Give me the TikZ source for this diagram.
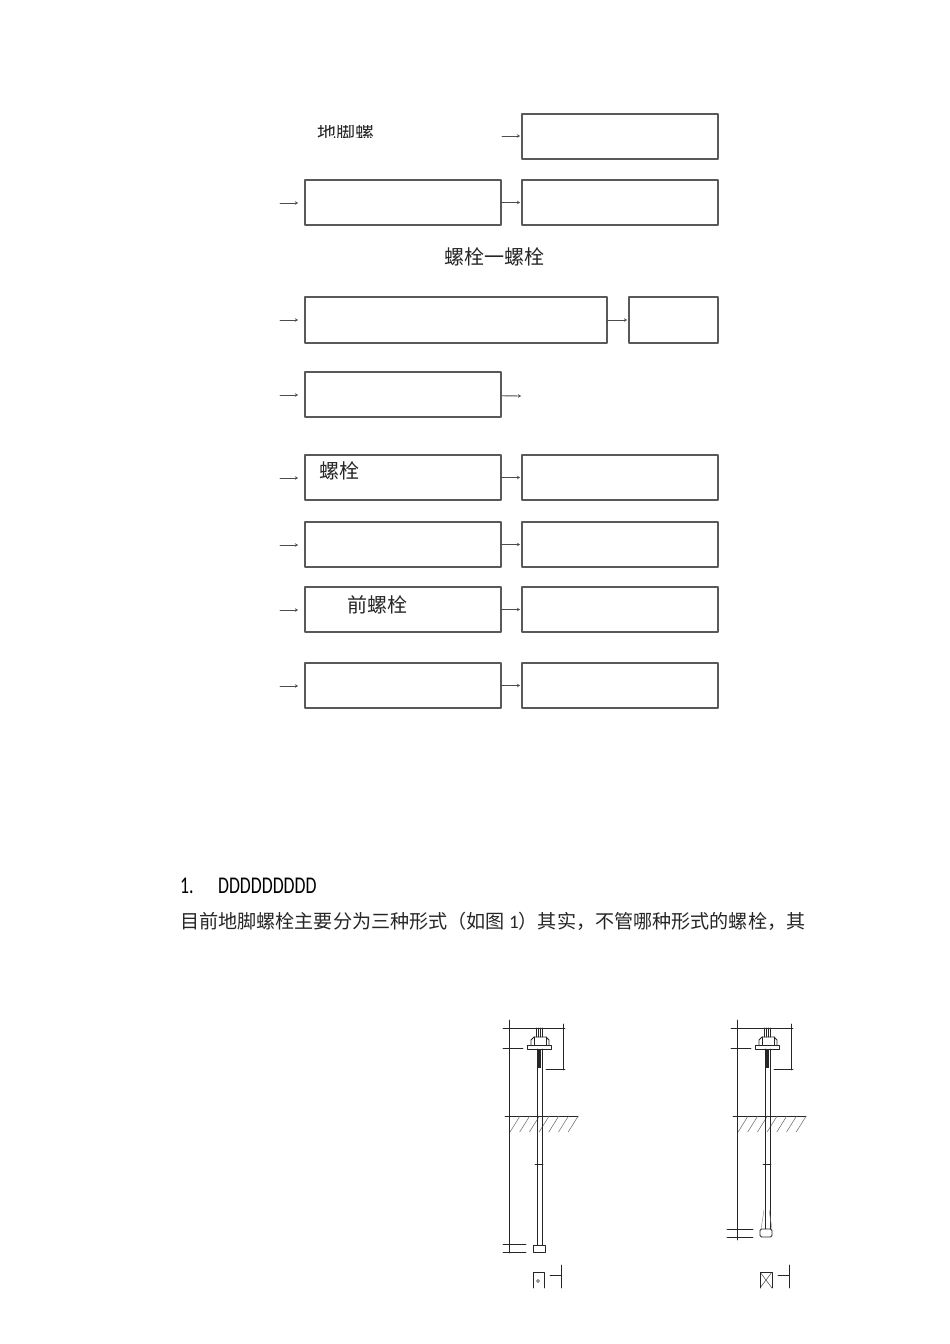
\documentclass[tikz,border=0pt]{standalone}
\usepackage{fontspec}
\setmainfont{Noto Sans CJK SC}
\newfontfamily\latinfont{Carlito}
\usetikzlibrary{arrows.meta,positioning}
\tikzset{
  flowbox/.style={draw=black!65,line width=1.1pt,fill=white,inner sep=0pt,outer sep=0pt,minimum height=45,anchor=north west},
  flowarrow/.style={draw=black!70,line width=0.9pt,-{Stealth[length=3pt,width=3.5pt]}},
  boxlabel/.style={inner sep=0pt,font=\fontsize{20}{20}\selectfont,text=black!85},
  drawing/.style={line width=0.8pt,draw=black!85}
}
\begin{document}
\begin{tikzpicture}[x=1pt,y=-1pt,line cap=round,line join=round]
  \useasboundingbox[fill=white] (0,0) rectangle (950,1344);

  % The two-box rows: left box, right box.
  \foreach \i/\y in {2/180,5/455,6/522,7/587,8/663}{
    \node[flowbox,minimum width=196] (left\i) at (305,\y) {};
    \node[flowbox,minimum width=196] (right\i) at (522,\y) {};
    \coordinate (start\i) at (280,\y+23);
    \draw[flowarrow,shorten >=7pt] (start\i) -- (start\i-|left\i.west);
    \draw[flowarrow,shorten >=2pt] (left\i) -- (right\i);
  }

  % Rows that do not follow that pattern.
  \node[flowbox,minimum width=196] (right1) at (522,114) {};
  \coordinate (start1) at (502,136);
  \draw[flowarrow,shorten >=2pt] (start1) -- (start1-|right1.west);
  \node[flowbox,minimum width=302,minimum height=46] (left3) at (305,297) {};
  \node[flowbox,minimum width=89,minimum height=46] (right3) at (629,297) {};
  \coordinate (start3) at (280,320);
  \draw[flowarrow,shorten >=7pt] (start3) -- (start3-|left3.west);
  \draw[flowarrow,shorten >=2pt] (left3) -- (right3);
  \node[flowbox,minimum width=196] (left4) at (305,372) {};
  \coordinate (start4) at (280,395);
  \coordinate (end4) at (521,396);
  \draw[flowarrow,shorten >=7pt] (start4) -- (start4-|left4.west);
  \draw[flowarrow] (left4) -- (end4);

  % Labels.
  \begin{scope}
    \clip (310,125) rectangle (380,137);
    \node[boxlabel,font=\fontsize{19}{19}\selectfont] (cutlabel) at (346,132) {地脚螺};
  \end{scope}
  \node[boxlabel] (midlabel) at (494,257) {螺栓一螺栓};
  \node[boxlabel] (label5) at (339,471) {螺栓};
  \node[boxlabel] (label7) at (377,605) {前螺栓};
  \node[inner sep=0pt,anchor=base west,font=\latinfont\fontsize{24}{24}\selectfont,xscale=0.74] (number) at (180,893) {1.};
  \node[inner sep=0pt,anchor=base west,font=\latinfont\fontsize{24}{24}\selectfont,xscale=0.74] (heading) at (218,893) {DDDDDDDDD};
  \node[boxlabel,anchor=west,font=\fontsize{19.1}{19.1}\selectfont] (bodyline) at (180,921) {目前地脚螺栓主要分为三种形式（如图 {\latinfont 1}）其实，不管哪种形式的螺栓，其};

  % The parts both bolt drawings share.
  \foreach \dx in {0,228}{
    \begin{scope}[shift={(\dx,0)},drawing]
      \draw (503,1028) -- (565,1028);
      \draw (563,1024) -- (563,1070);
      \draw (546,1069) -- (565,1069);
      \draw (503,1048) -- (523,1048);
      \draw (527,1045) rectangle (551,1049);
      \draw (531,1045) -- (531,1040) -- (534,1037) -- (546,1037) -- (549,1040) -- (549,1045);
      \draw (534,1045) -- (534,1037) (546,1045) -- (546,1037);
      \draw (536,1037) -- (536,1028) (538,1037) -- (538,1028) (540,1037) -- (540,1028) (542,1037) -- (542,1028);
      \fill[black!85] (537,1049) rectangle (541,1068);
      \draw (505,1116) -- (578,1116);
      \foreach \h in {0,...,6}
        \draw[line width=0.5pt,black!60] (520+9.7*\h,1116) -- (510+9.7*\h,1132);
      \draw (535,1164) -- (543,1164);
      \draw (561,1265) -- (561,1288) (550,1275) -- (561,1275);
    \end{scope}
  }

  % First bolt: straight rod, square foot.
  \begin{scope}[drawing]
    \draw (509,1020) -- (509,1253);
    \draw (537,1049) -- (537,1245) (542,1049) -- (542,1245);
    \draw (533,1245) rectangle (545,1252);
    \draw (503,1244) -- (526,1244) (503,1252) -- (526,1252);
    \draw (533,1288) -- (533,1272) -- (544,1272) -- (544,1288);
    \draw[line width=0.4pt] (538,1281) circle (1.5);
  \end{scope}

  % Second bolt: tapered end, rounded foot.
  \begin{scope}[drawing]
    \draw (737,1020) -- (737,1240);
    \draw (765,1049) -- (765,1229) (770,1049) -- (770,1229);
    \draw[rounded corners=1.5pt] (760,1229) rectangle (772,1237);
    \draw[line width=0.4pt,black!50] (764,1210) -- (761,1229) (769,1210) -- (772,1229);
    \draw (727,1229) -- (753,1229) (727,1237) -- (753,1237);
    \draw (760,1288) -- (760,1272) -- (772,1272) -- (772,1288);
    \draw[line width=0.4pt] (760,1272) -- (772,1288) (772,1272) -- (760,1288);
  \end{scope}
\end{tikzpicture}
\end{document}
